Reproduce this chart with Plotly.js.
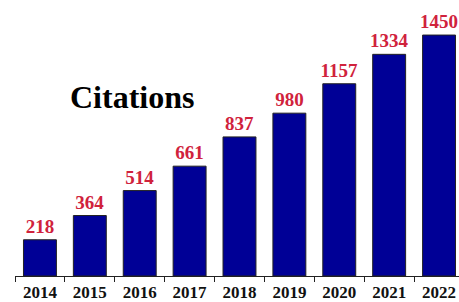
<!DOCTYPE html>
<html><head><meta charset="utf-8">
<script src="https://cdn.plot.ly/plotly-3.0.1.min.js"></script>
<style>html,body{margin:0;padding:0;background:#fff}#chart{width:459px;height:302px}</style>
</head><body><div id="chart"></div>
<script>
const years = ['2014','2015','2016','2017','2018','2019','2020','2021','2022'];
const citations = [218, 364, 514, 661, 837, 980, 1157, 1334, 1450];
const chartTitle = 'Citations';

const serif = 'Liberation Serif, Times New Roman, serif';
Plotly.newPlot('chart', [{
  type: 'bar', x: years, y: citations,
  marker: {color: '#000096', line: {color: '#222222', width: 1}},
  text: citations.map(String), textposition: 'outside', cliponaxis: false,
  constraintext: 'none',
  textfont: {family: serif, size: 19, color: '#D0223C', weight: 'bold'},
  width: 0.66, hoverinfo: 'none'
}], {
  width: 459, height: 302,
  margin: {l: 15, r: 0, t: 0, b: 26},
  paper_bgcolor: '#fff', plot_bgcolor: '#fff',
  showlegend: false,
  xaxis: {type: 'category', range: [-0.5, 8.4], showline: true, linecolor: '#222', linewidth: 1,
    ticks: 'outside', tickson: 'boundaries', ticklen: 5, tickcolor: '#222', showgrid: false,
    ticklabelstandoff: 1,
    tickfont: {family: serif, size: 17, color: '#111', weight: 'bold'}},
  yaxis: {range: [0, 1661], visible: false, showgrid: false, zeroline: false},
  annotations: [{text: chartTitle, xref: 'paper', yref: 'paper', x: 0.12, y: 0.65,
    xanchor: 'left', yanchor: 'middle', showarrow: false,
    font: {family: serif, size: 32, color: '#000', weight: 'bold'}}]
}, {staticPlot: true});
</script></body></html>
